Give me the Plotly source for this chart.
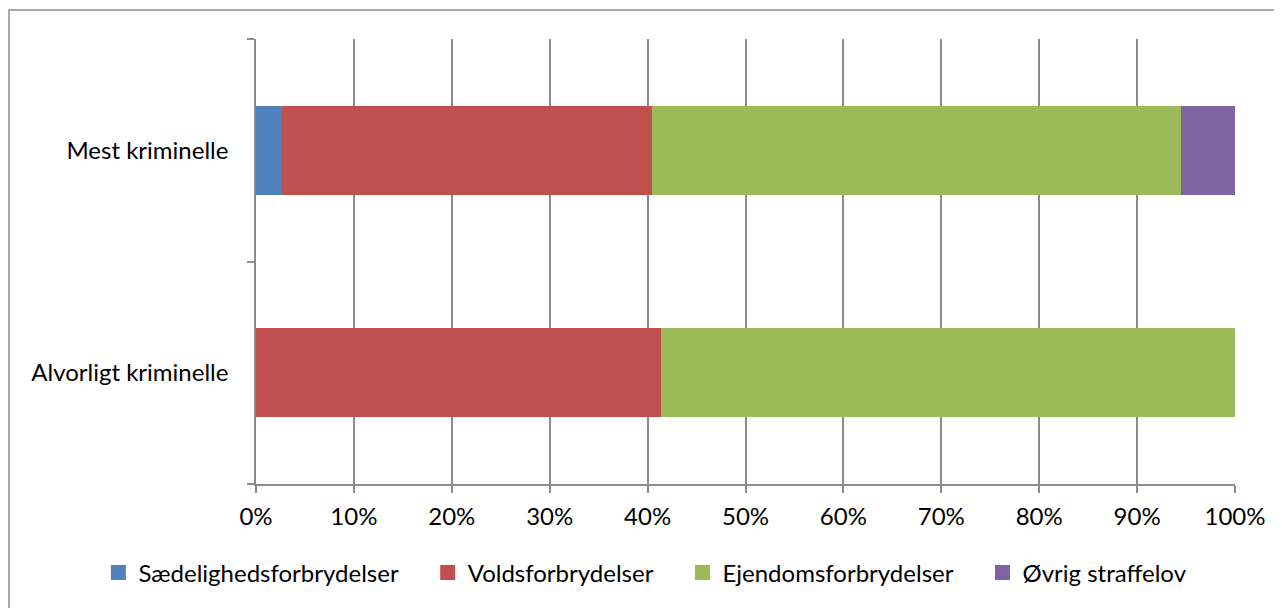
import plotly.graph_objects as go

categories = ["Alvorligt kriminelle", "Mest kriminelle"]
series_names = ["Sædelighedsforbrydelser", "Voldsforbrydelser", "Ejendomsforbrydelser", "Øvrig straffelov"]
saedelighed = [0.0, 2.7]
vold = [41.4, 37.8]
ejendom = [58.6, 54.0]
oevrig = [0.0, 5.5]
colors = ["#4F81BD", "#C0504D", "#9BBB59", "#8064A2"]
tick_vals = [0, 10, 20, 30, 40, 50, 60, 70, 80, 90, 100]
tick_text = [f"{v}%" for v in tick_vals]

FONT = "Lato, Calibri, Carlito, sans-serif"
FS = 24
fig = go.Figure()
for name, vals, col in zip(series_names, [saedelighed, vold, ejendom, oevrig], colors):
    fig.add_trace(go.Bar(y=categories, x=vals, name=name, orientation="h",
                         marker=dict(color=col, line=dict(width=0)), showlegend=False))
# legend entries (square markers like the reference)
pad = "\u00a0" * 4
for i, (name, col) in enumerate(zip(series_names, colors)):
    fig.add_trace(go.Scatter(x=[None], y=[None], mode="markers", name=name + (pad if i < 3 else ""),
                             marker=dict(symbol="square", size=15, color=col), showlegend=True))

fig.update_layout(
    barmode="stack", bargap=0.6,
    width=1282, height=608,
    margin=dict(l=248, r=55, t=31, b=132),
    paper_bgcolor="white", plot_bgcolor="white",
    font=dict(family=FONT, size=FS, color="#000000"),
    showlegend=True,
    legend=dict(orientation="h", x=-0.161, xanchor="left", y=-0.200, yanchor="middle",
                font=dict(family=FONT, size=FS, color="#000000"),
                itemwidth=30, traceorder="normal"),
    xaxis=dict(range=[0, 100], tickvals=tick_vals, ticktext=tick_text,
               showgrid=True, gridcolor="#8C8C8C", gridwidth=1.5,
               showline=True, linecolor="#8C8C8C", linewidth=1.5,
               ticks="outside", ticklen=7, tickcolor="#8C8C8C", tickwidth=1.5,
               zeroline=False, ticklabelstandoff=3, fixedrange=True),
    yaxis=dict(categoryorder="array", categoryarray=categories, range=[-0.5, 1.5],
               showline=True, linecolor="#8C8C8C", linewidth=1.5,
               ticks="outside", ticklen=7, tickcolor="#8C8C8C", tickwidth=1.5,
               tickson="boundaries", showgrid=False, ticklabelstandoff=21,
               fixedrange=True),
)

# outer chart-area border (clipped at right and bottom in the reference)
fig.add_shape(type="path", xref="paper", yref="paper",
              path="M -0.2523,-0.5 L -0.2523,1.0652 L 1.2,1.0652",
              line=dict(color="#8C8C8C", width=1.5))

fig.write_html("out.html")
